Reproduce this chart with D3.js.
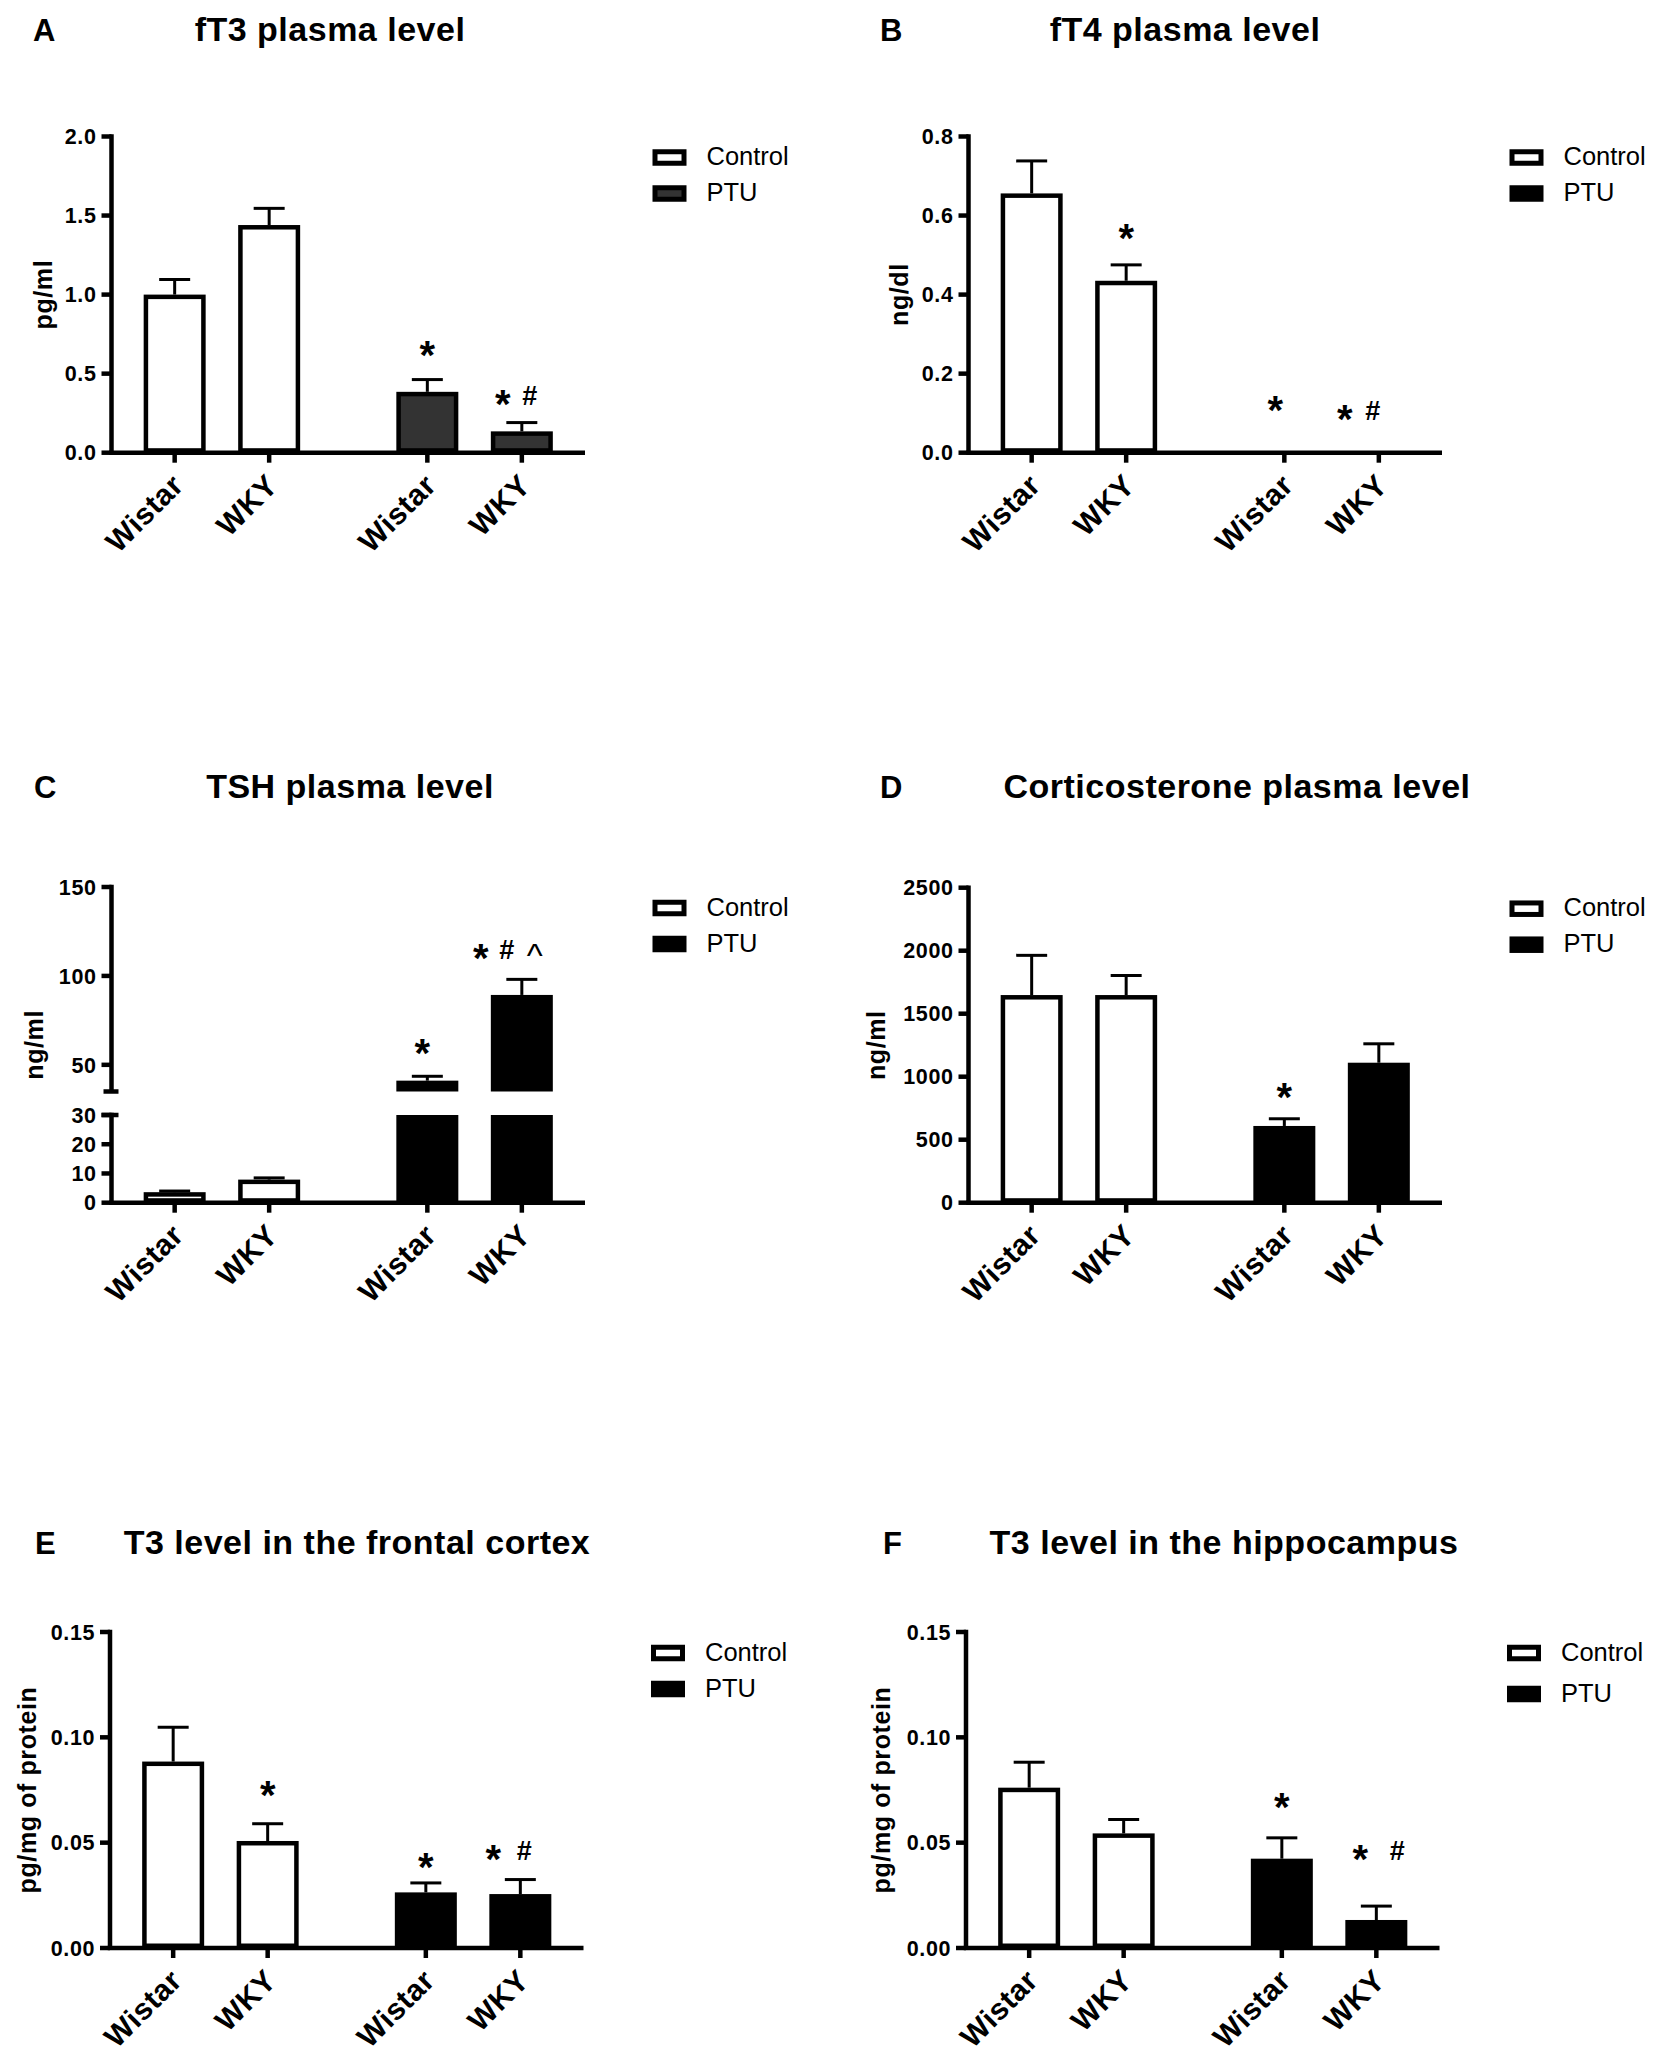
<!DOCTYPE html>
<html>
<head>
<meta charset="utf-8">
<script src="https://cdn.jsdelivr.net/npm/d3@7"></script>
<style>
  body { margin: 0; background: #fff; }
  text { font-family: "Liberation Sans", Arial, Helvetica, sans-serif; }
</style>
</head>
<body>
<svg id="chart" width="1661" height="2058"></svg>
<script>
// ---------------- DATA ----------------
const groups = ["Control", "PTU"];
const strains = ["Wistar", "WKY"];
const barLabels = ["Wistar", "WKY", "Wistar", "WKY"];

// A: fT3 plasma level (pg/ml)
const fT3Mean = [1.00, 1.44, 0.385, 0.135];
const fT3Sem  = [0.105, 0.115, 0.087, 0.065];
const fT3Ticks = [0, 0.5, 1.0, 1.5, 2.0];
const fT3Marks = [[], [], ["*"], ["*", "#"]];
const fT3MarkAt = [null, null, 0.675, 0.36];

// B: fT4 plasma level (ng/dl)
const fT4Mean = [0.656, 0.435, 0, 0];
const fT4Sem  = [0.086, 0.044, 0, 0];
const fT4Ticks = [0, 0.2, 0.4, 0.6, 0.8];
const fT4Marks = [[], ["*"], ["*"], ["*", "#"]];
const fT4MarkAt = [null, 0.565, 0.13, 0.106];

// C: TSH plasma level (ng/ml), broken axis
const tshMean = [3.6, 7.9, 41.1, 89.3];
const tshSem  = [0.9, 1.1, 3.3, 9.6];
const tshLowTicks = [0, 10, 20, 30];
const tshHighTicks = [50, 100, 150];
const tshBreak = [30, 35];
const tshMarks = [[], [], ["*"], ["*", "#", "^"]];
const tshMarkAt = [null, null, 61.5, 115];

// D: Corticosterone plasma level (ng/ml)
const cortMean = [1648, 1648, 609, 1111];
const cortSem  = [327, 167, 69, 162];
const cortTicks = [0, 500, 1000, 1500, 2000, 2500];
const cortMarks = [[], [], ["*"], []];
const cortMarkAt = [null, null, 910, null];

// E: T3 level in the frontal cortex (pg/mg of protein)
const t3FcMean = [0.0885, 0.0508, 0.0264, 0.0256];
const t3FcSem  = [0.0170, 0.0089, 0.0052, 0.0076];
const t3FcTicks = [0, 0.05, 0.10, 0.15];
const t3FcMarks = [[], ["*"], ["*"], ["*", "#"]];
const t3FcMarkAt = [null, 0.0765, 0.0425, 0.0462];

// F: T3 level in the hippocampus (pg/mg of protein)
const t3HipMean = [0.0761, 0.0544, 0.0424, 0.0133];
const t3HipSem  = [0.0128, 0.0073, 0.0106, 0.0073];
const t3HipTicks = [0, 0.05, 0.10, 0.15];
const t3HipMarks = [[], [], ["*"], ["*", "#"]];
const t3HipMarkAt = [null, null, 0.071, 0.0462];

// ---------------- PANEL LAYOUT / STYLE ----------------
const panels = [
  { letter: "A", title: "fT3 plasma level", ylabel: "pg/ml", mean: fT3Mean, sem: fT3Sem,
    ticks: fT3Ticks, fmt: ".1f", marks: fT3Marks, markAt: fT3MarkAt,
    ax: 111.5, top: 136.5, h: 316.2, titleX: 330, titleY: 41, letterX: 33, ylabOff: 66,
    ptuFill: "#333333", legendGap: 36, markDx: [[], [], [0], [-19, 8]] },
  { letter: "B", title: "fT4 plasma level", ylabel: "ng/dl", mean: fT4Mean, sem: fT4Sem,
    ticks: fT4Ticks, fmt: ".1f", marks: fT4Marks, markAt: fT4MarkAt,
    ax: 968.5, top: 136.5, h: 316.2, titleX: 1185, titleY: 41, letterX: 880, ylabOff: 67,
    ptuFill: "#000000", legendGap: 36, markDx: [[], [0], [-9], [-34, -6]] },
  { letter: "C", title: "TSH plasma level", ylabel: "ng/ml", mean: tshMean, sem: tshSem,
    broken: true, lowTicks: tshLowTicks, highTicks: tshHighTicks, brk: tshBreak,
    lowTopY: 1115, highBotY: 1091.5, fmt: "d", marks: tshMarks, markAt: tshMarkAt,
    ax: 111.5, top: 887, h: 315.7, titleX: 350, titleY: 798, letterX: 34, ylabOff: 75,
    ptuFill: "#000000", legendGap: 36, markDx: [[], [], [-5], [-41, -15, 13]] },
  { letter: "D", title: "Corticosterone plasma level", ylabel: "ng/ml", mean: cortMean, sem: cortSem,
    ticks: cortTicks, fmt: "d", marks: cortMarks, markAt: cortMarkAt,
    ax: 968.5, top: 887.7, h: 315, titleX: 1237, titleY: 798, letterX: 880, ylabOff: 90,
    ptuFill: "#000000", legendGap: 36, markDx: [[], [], [0], []] },
  { letter: "E", title: "T3 level in the frontal cortex", ylabel: "pg/mg of protein", mean: t3FcMean, sem: t3FcSem,
    ticks: t3FcTicks, fmt: ".2f", marks: t3FcMarks, markAt: t3FcMarkAt,
    ax: 110, top: 1632, h: 316, titleX: 357, titleY: 1554, letterX: 35, ylabOff: 81,
    ptuFill: "#000000", legendGap: 36, markDx: [[], [0], [0], [-27, 4]] },
  { letter: "F", title: "T3 level in the hippocampus", ylabel: "pg/mg of protein", mean: t3HipMean, sem: t3HipSem,
    ticks: t3HipTicks, fmt: ".2f", marks: t3HipMarks, markAt: t3HipMarkAt,
    ax: 966, top: 1632, h: 316, titleX: 1224, titleY: 1554, letterX: 883, ylabOff: 83,
    ptuFill: "#000000", legendGap: 41, markDx: [[], [], [0], [-16, 21]] }
];

const AXIS_W = 473.5;
const SW = 4.5;      // axis / bar outline width
const EW = 3;        // error bar width

const symStyle = {
  "*": { size: 40, weight: "bold", dy: "0.565em" },
  "#": { size: 27, weight: "bold", dy: "0.355em" },
  "^": { size: 34, weight: "normal", dy: "0.52em" }
};

const svg = d3.select("#chart");
svg.append("rect").attr("width", 1661).attr("height", 2058).attr("fill", "#fff");

function drawPanel(p) {
  const g = svg.append("g");
  const bottom = p.top + p.h;

  const outer = d3.scaleBand().domain(groups).range([p.ax, p.ax + AXIS_W])
    .paddingInner(0.252).paddingOuter(0.063);
  const inner = d3.scaleBand().domain(strains).range([0, outer.bandwidth()])
    .paddingInner(0.344).paddingOuter(0.172);
  const bw = inner.bandwidth();
  const cx = i => outer(groups[Math.floor(i / 2)]) + inner(strains[i % 2]) + bw / 2;

  let y, segments;
  const fmt = d3.format(p.fmt);
  if (p.broken) {
    const yLow = d3.scaleLinear().domain([0, p.brk[0]]).range([bottom, p.lowTopY]);
    const hiMax = d3.max(p.highTicks);
    const yHigh = d3.scaleLinear().domain([p.brk[1], hiMax]).range([p.highBotY, p.top]);
    y = v => (v <= p.brk[0] ? yLow(v) : yHigh(v));
    segments = [
      { s: yLow, d0: 0, d1: p.brk[0], ticks: p.lowTicks },
      { s: yHigh, d0: p.brk[1], d1: hiMax, ticks: p.highTicks }
    ];
  } else {
    const mx = d3.max(p.ticks);
    const ys = d3.scaleLinear().domain([0, mx]).range([bottom, p.top]);
    y = ys;
    segments = [{ s: ys, d0: 0, d1: mx, ticks: p.ticks }];
  }

  // bars
  p.mean.forEach((v, i) => {
    const fill = i < 2 ? "#ffffff" : p.ptuFill;
    segments.forEach(seg => {
      const lo = seg.d0, hi = Math.min(v, seg.d1);
      if (hi <= lo) return;
      const yt = seg.s(hi), yb = seg.s(lo);
      g.append("rect")
        .attr("x", cx(i) - bw / 2 + SW / 2)
        .attr("y", yt + SW / 2)
        .attr("width", bw - SW)
        .attr("height", Math.max(0, yb - yt - SW))
        .attr("fill", fill).attr("stroke", "#000").attr("stroke-width", SW);
    });
    if (p.sem[i] > 0) {
      const yt = y(v + p.sem[i]), yv = y(v);
      g.append("line").attr("x1", cx(i)).attr("x2", cx(i))
        .attr("y1", yv).attr("y2", yt + EW / 2)
        .attr("stroke", "#000").attr("stroke-width", EW);
      g.append("line").attr("x1", cx(i) - bw / 4).attr("x2", cx(i) + bw / 4)
        .attr("y1", yt + EW / 2).attr("y2", yt + EW / 2)
        .attr("stroke", "#000").attr("stroke-width", EW);
    }
  });

  // y axis
  segments.forEach(seg => {
    g.append("line").attr("x1", p.ax).attr("x2", p.ax)
      .attr("y1", seg.s(seg.d1) - SW / 2).attr("y2", seg.s(seg.d0))
      .attr("stroke", "#000").attr("stroke-width", SW);
    seg.ticks.forEach(t => {
      g.append("line").attr("x1", p.ax - 10).attr("x2", p.ax)
        .attr("y1", seg.s(t)).attr("y2", seg.s(t))
        .attr("stroke", "#000").attr("stroke-width", SW);
      g.append("text").attr("x", p.ax - 15).attr("y", seg.s(t)).attr("dy", "0.36em")
        .attr("text-anchor", "end").attr("font-size", 21.5).attr("font-weight", "bold")
        .attr("letter-spacing", 0.6).text(fmt(t));
    });
  });
  if (p.broken) {
    [segments[1].s(p.brk[1]), segments[0].s(p.brk[0])].forEach((yy, k) => {
      g.append("line").attr("x1", p.ax - (k === 0 ? 8 : 10)).attr("x2", p.ax + 7)
        .attr("y1", yy).attr("y2", yy).attr("stroke", "#000").attr("stroke-width", SW);
    });
  }

  // x axis
  g.append("line").attr("x1", p.ax - SW / 2).attr("x2", p.ax + AXIS_W)
    .attr("y1", bottom).attr("y2", bottom).attr("stroke", "#000").attr("stroke-width", SW);
  barLabels.forEach((lab, i) => {
    g.append("line").attr("x1", cx(i)).attr("x2", cx(i))
      .attr("y1", bottom).attr("y2", bottom + 10)
      .attr("stroke", "#000").attr("stroke-width", SW);
    g.append("text")
      .attr("transform", `translate(${cx(i) + 3},${bottom + 27}) rotate(-45)`)
      .attr("text-anchor", "end").attr("dominant-baseline", "central")
      .attr("font-size", 30).attr("font-weight", "bold").attr("letter-spacing", 0.5)
      .text(lab);
  });

  // y label
  g.append("text")
    .attr("transform", `translate(${p.ax - p.ylabOff},${(p.top + bottom) / 2}) rotate(-90)`)
    .attr("text-anchor", "middle").attr("dy", "0.27em")
    .attr("font-size", 25).attr("font-weight", "bold").attr("letter-spacing", 0.6)
    .text(p.ylabel);

  // title and letter
  g.append("text").attr("x", p.titleX).attr("y", p.titleY).attr("text-anchor", "middle")
    .attr("font-size", 34).attr("font-weight", "bold").attr("letter-spacing", 0.5)
    .text(p.title);
  g.append("text").attr("x", p.letterX).attr("y", p.titleY)
    .attr("font-size", 31).attr("font-weight", "bold").text(p.letter);

  // legend
  groups.forEach((gn, k) => {
    const yc = p.top + 21 + k * p.legendGap;
    g.append("rect").attr("x", p.ax + 541 + 2.5).attr("y", yc - 8.25 + 2.5)
      .attr("width", 29).attr("height", 11.5)
      .attr("fill", k === 0 ? "#ffffff" : p.ptuFill)
      .attr("stroke", "#000").attr("stroke-width", 5);
    g.append("text").attr("x", p.ax + 595).attr("y", yc).attr("dy", "0.3em")
      .attr("font-size", 25.5).text(gn);
  });

  // significance marks
  p.marks.forEach((syms, i) => {
    if (!syms.length) return;
    const cy = y(p.markAt[i]);
    syms.forEach((s, j) => {
      const st = symStyle[s];
      g.append("text").attr("x", cx(i) + p.markDx[i][j]).attr("y", cy).attr("dy", st.dy)
        .attr("text-anchor", "middle").attr("font-size", st.size).attr("font-weight", st.weight)
        .text(s);
    });
  });
}

panels.forEach(drawPanel);
</script>
</body>
</html>
